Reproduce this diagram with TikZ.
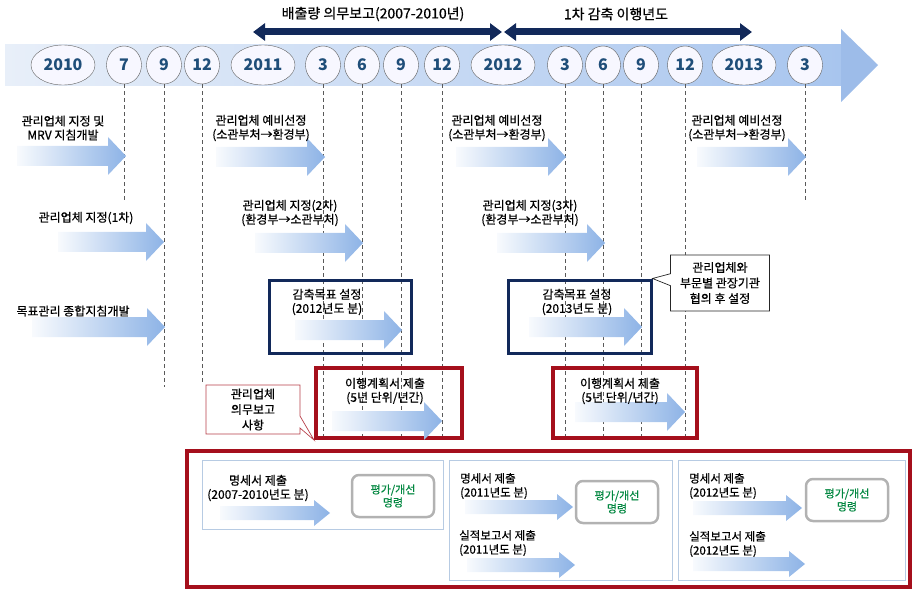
\documentclass[tikz,border=0pt]{standalone}
\usepackage{fontspec}
\setmainfont{Noto Sans CJK KR}
\newfontfamily\krmed[FakeBold=0.6]{Noto Sans CJK KR}
\usepackage{xcolor}
\usetikzlibrary{shapes.geometric,shapes.callouts,arrows.meta}

\definecolor{navy}{HTML}{12295A}
\definecolor{darkred}{HTML}{A50F1C}
\definecolor{numblue}{HTML}{1F4E79}
\definecolor{arrowblue}{HTML}{8DB3E6}
\definecolor{bandleft}{HTML}{E8EFF9}
\definecolor{bandright}{HTML}{A8C5EE}
\definecolor{bandhead}{HTML}{9DBCE9}
\definecolor{boxline}{HTML}{B7CBE3}
\definecolor{evalgreen}{HTML}{00873F}

\tikzset{
  yearnode/.style={ellipse, draw=gray!75!black, fill=blue!3, minimum width=64, minimum height=40,
    inner sep=0pt, text=numblue, font=\fontsize{16}{16}\selectfont\bfseries},
  monthnode/.style={yearnode, minimum width=35, minimum height=38},
  guide/.style={gray!70!black, line width=0.5pt, dash pattern=on 4pt off 3pt},
  period/.style={navy, line width=7pt, {Triangle[length=12pt,width=17pt]}-{Triangle[length=12pt,width=17pt]}},
  toplbl/.style={font=\krmed\fontsize{14}{15}\selectfont},
  lbl/.style={font=\krmed\fontsize{12}{14}\selectfont, align=center, inner sep=1pt},
  smalllbl/.style={font=\krmed\fontsize{11.5}{14}\selectfont, align=left, inner sep=1pt},
  navybox/.style={draw=navy, line width=3pt},
  redbox/.style={draw=darkred, line width=4pt},
  innerbox/.style={draw=boxline, line width=0.8pt},
  evalbox/.style={draw=gray!60, line width=2.5pt, rounded corners=7pt, fill=white,
    minimum width=82, minimum height=42, text=evalgreen, align=center,
    font=\krmed\fontsize{11}{13}\selectfont},
  notebox/.style={rectangle callout, fill=white, line width=0.7pt, align=center,
    callout pointer width=12pt, font=\krmed\fontsize{12}{15.5}\selectfont}
}

\begin{document}
\begin{tikzpicture}[x=1pt,y=-1pt]
	\useasboundingbox (0,0) rectangle (914,591);
	
	\shade[left color=bandleft, right color=bandright] (5,45) rectangle (841,86);
	\fill[bandhead] (841,29) -- (878,65) -- (841,102) -- cycle;
	
	\foreach \x/\t in {63/2010,263/2011,503/2012,744/2013}
	\node[yearnode] (y\t) at (\x,65) {\t};
	\foreach \x/\t/\n in {124/7/m7,164/9/m9,202/12/m12,323/3/a3,362/6/a6,401/9/a9,442/12/a12,
		565/3/b3,603/6/b6,641/9/b9,685/12/b12,805/3/c3}
	\node[monthnode] (\n) at (\x,65) {\t};
	
	\foreach \n/\e in {m7/200,m9/387,m12/382,a3/440,a6/440,a9/440,a12/440,
		b3/440,b6/440,b9/440,b12/440,c3/200}
	\draw[guide] (\n.south) -- (\n.south |- 0,\e);
	
	\coordinate (p0) at (253,32);
	\coordinate (p1) at (502,32);
	\coordinate (p2) at (504,32);
	\coordinate (p3) at (752,32);
	\draw[period] (p0) -- (p1);
	\draw[period] (p2) -- (p3);
	\node[toplbl] (rep) at (373,14) {배출량 의무보고(2007-2010년)};
	\node[toplbl] (cut) at (616,14) {1차 감축 이행년도};
	
	\node[navybox, minimum width=142, minimum height=73] (nb1) at (340,316.5) {};
	\node[navybox, minimum width=143, minimum height=73] (nb2) at (579.5,316.5) {};
	\node[redbox, minimum width=146, minimum height=70] (rb1) at (389,403) {};
	\node[redbox, minimum width=144, minimum height=70] (rb2) at (625,403) {};
	\node[redbox, minimum width=723, minimum height=136] (rb0) at (548.5,519) {};
	\node[innerbox, minimum width=241, minimum height=69] (ib1) at (322.5,494.5) {};
	\node[innerbox, minimum width=223, minimum height=120] (ib2) at (560.5,520) {};
	\node[innerbox, minimum width=227, minimum height=120] (ib3) at (791.5,520) {};
	
	\foreach \xa/\xb/\yc in {17/126/156,58/164/242,32/165/327,216/325/157,255/363/243,
		456/566/157,497/605/243,697/806/157,295/402/330,529/642/327,332/442/421,575/685/412}
	\shade[left color=arrowblue!6, right color=arrowblue]
	(\xa,\yc-10) -- (\xb-18,\yc-10) -- (\xb-18,\yc-19) -- (\xb,\yc) --
	(\xb-18,\yc+19) -- (\xb-18,\yc+10) -- (\xa,\yc+10) -- cycle;
	
	\foreach \xa/\xb/\yc in {220/330/513,465/573/507,467/575/565,693/802/508,693/805/564}
	\shade[left color=arrowblue!6, right color=arrowblue]
	(\xa,\yc-7) -- (\xb-16,\yc-7) -- (\xb-16,\yc-13) -- (\xb,\yc) --
	(\xb-16,\yc+13) -- (\xb-16,\yc+7) -- (\xa,\yc+7) -- cycle;
	
	\node[lbl] (t1) at (63,128) {관리업체 지정 및\\MRV 지침개발};
	\node[lbl] (t2) at (86,218) {관리업체 지정(1차)};
	\node[lbl] (t3) at (73,311) {목표관리 종합지침개발};
	\node[lbl] (t4) at (261,128) {관리업체 예비선정\\(소관부처→환경부)};
	\node[lbl] (t5) at (290,213) {관리업체 지정(2차)\\(환경부→소관부처)};
	\node[lbl] (t6) at (497,128) {관리업체 예비선정\\(소관부처→환경부)};
	\node[lbl] (t7) at (530,213) {관리업체 지정(3차)\\(환경부→소관부처)};
	\node[lbl] (t8) at (737,128) {관리업체 예비선정\\(소관부처→환경부)};
	\node[lbl] (t9) at (327,302) {감축목표 설정\\(2012년도 분)};
	\node[lbl] (t10) at (577,302) {감축목표 설정\\(2013년도 분)};
	\node[lbl] (t11) at (385,391) {이행계획서 제출\\(5년 단위/년간)};
	\node[lbl] (t12) at (620,391) {이행계획서 제출\\(5년 단위/년간)};
	
	\node[notebox, draw=gray!30!black, minimum width=99, minimum height=56,
	callout absolute pointer={(nb2.north east)}] (n1) at (720,283) {관리업체와\\부문별 관장기관\\협의 후 설정};
	\node[notebox, draw=darkred!80, minimum width=94, minimum height=49,
	callout absolute pointer={(rb1.south west)}] (n2) at (253,409.5) {관리업체\\의무보고\\사항};
	
	\node[lbl] (s1) at (258,488) {명세서 제출\\(2007-2010년도 분)};
	\node[smalllbl, anchor=west] (s2) at (459,486) {명세서 제출\\(2011년도 분)};
	\node[smalllbl, anchor=west] (s3) at (458,543) {실적보고서 제출\\(2011년도 분)};
	\node[smalllbl, anchor=west] (s4) at (688,486) {명세서 제출\\(2012년도 분)};
	\node[smalllbl, anchor=west] (s5) at (688,544) {실적보고서 제출\\(2012년도 분)};
	
	\node[evalbox] (e1) at (393,496) {평가/개선\\명령};
	\node[evalbox] (e2) at (617,502) {평가/개선\\명령};
	\node[evalbox] (e3) at (847,500) {평가/개선\\명령};
\end{tikzpicture}
\end{document}
